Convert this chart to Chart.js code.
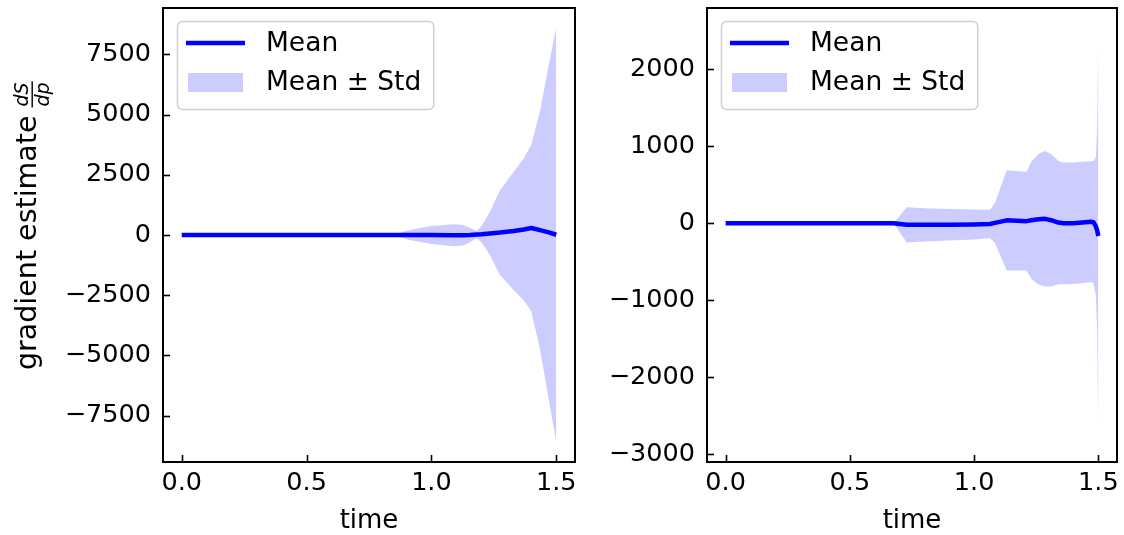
<!DOCTYPE html>
<html>
<head>
<meta charset="utf-8">
<script src="https://cdn.jsdelivr.net/npm/chart.js@4.4.0/dist/chart.umd.min.js"></script>
<style>
html, body { margin: 0; padding: 0; background: #fff; }
#wrap { position: relative; width: 1124px; height: 535px; }
#left { position: absolute; left: 0; top: 0; width: 580px; height: 535px; }
#right { position: absolute; left: 580px; top: 0; width: 544px; height: 535px; }
</style>
</head>
<body>
<div id="wrap">
	<canvas id="left" width="580" height="535"></canvas>
	<canvas id="right" width="544" height="535"></canvas>
</div>
<script>

// left panel
var timeL = [0, 0.846, 0.913, 0.993, 1.087, 1.127, 1.154, 1.181, 1.2, 1.234, 1.274, 1.33, 1.37, 1.4, 1.435, 1.47, 1.5];
var meanL = [0, 0, 0, 0, -10, -10, 0, 20, 30, 65, 100, 165, 230, 290, 200, 110, 10];
var stdL  = [0, 0, 210, 360, 455, 430, 300, 150, 330, 890, 1750, 2460, 2950, 3450, 4950, 6940, 8600];
var yTicksL = [-7500, -5000, -2500, 0, 2500, 5000, 7500];

// right panel
var timeR = [0, 0.676, 0.729, 0.8, 0.9, 1.0, 1.064, 1.084, 1.131, 1.211, 1.23, 1.26, 1.285, 1.31, 1.339, 1.36, 1.4, 1.47, 1.48, 1.49, 1.495, 1.5];
var meanR = [0, 0, -20, -20, -18, -15, -10, 5, 38, 28, 40, 52, 58, 40, 10, 0, 0, 20, 15, -40, -90, -165];
var stdR  = [0, 0, 230, 215, 205, 195, 185, 260, 650, 640, 760, 850, 880, 860, 800, 790, 788, 785, 790, 900, 1300, 2700];
var yTicksR = [-3000, -2000, -1000, 0, 1000, 2000];

var xTicks = [0, 0.5, 1.0, 1.5];
var labelMean = "Mean";
var labelBand = "Mean \u00b1 Std";

Chart.defaults.font.family = "'DejaVu Sans', sans-serif";
Chart.defaults.font.size = 25.5;
Chart.defaults.color = "#000";

function fmt(v){
	if (v < 0) { return "\u2212" + Math.abs(v); }
	return String(v);
}

function pts(t, vals){
	return t.map(function(x, i){ return {x: x, y: vals[i]}; });
}

// spines + inward ticks, like matplotlib direction='in'
var framePlugin = {
	id: 'frame',
	afterDatasetsDraw: function(chart){
		var ctx = chart.ctx, a = chart.chartArea;
		ctx.save();
		ctx.strokeStyle = "#000";
		ctx.lineWidth = 1.6;
		chart.scales.x.ticks.forEach(function(t){
			var px = Math.round(chart.scales.x.getPixelForValue(t.value)) + 0.5;
			ctx.beginPath(); ctx.moveTo(px, a.bottom); ctx.lineTo(px, a.bottom - 7); ctx.stroke();
		});
		chart.scales.y.ticks.forEach(function(t){
			var py = Math.round(chart.scales.y.getPixelForValue(t.value)) + 0.5;
			ctx.beginPath(); ctx.moveTo(a.left, py); ctx.lineTo(a.left + 7, py); ctx.stroke();
		});
		ctx.lineWidth = 2;
		ctx.strokeRect(a.left, a.top, a.right - a.left, a.bottom - a.top);
		ctx.restore();
	},
	afterDraw: function(chart){
		// legend box in upper left
		var ctx = chart.ctx, a = chart.chartArea;
		var ds = chart.data.datasets;
		ctx.save();
		ctx.font = "26.5px 'DejaVu Sans'";
		var tw = Math.max(ctx.measureText(ds[0].label).width, ctx.measureText(ds[2].label).width);
		var bx = a.left + 14, by = a.top + 13, bw = 89 + tw + 12, bh = 88;
		ctx.beginPath();
		ctx.roundRect(bx + 0.5, by + 0.5, bw, bh, 5);
		ctx.fillStyle = "rgba(255,255,255,0.8)";
		ctx.fill();
		ctx.strokeStyle = "#d0d0d0";
		ctx.lineWidth = 1.5;
		ctx.stroke();
		ctx.strokeStyle = ds[0].borderColor;
		ctx.lineWidth = 4.5;
		ctx.beginPath(); ctx.moveTo(bx + 9, by + 22); ctx.lineTo(bx + 68, by + 22); ctx.stroke();
		ctx.fillStyle = ds[2].backgroundColor;
		ctx.fillRect(bx + 11, by + 52, 55, 19);
		ctx.fillStyle = "#000";
		ctx.textBaseline = "middle";
		ctx.fillText(ds[0].label, bx + 89, by + 23);
		ctx.fillText(ds[2].label, bx + 89, by + 62);
		ctx.restore();
	}
};

var ylabelPlugin = {
	id: 'ylabel',
	afterDraw: function(chart){
		if (!chart.options.plugins.ylabel || !chart.options.plugins.ylabel.text) { return; }
		var ctx = chart.ctx;
		ctx.save();
		ctx.translate(29, 370);
		ctx.rotate(-Math.PI / 2);
		ctx.fillStyle = "#000";
		ctx.textBaseline = "middle";
		ctx.textAlign = "left";
		ctx.font = "28.5px 'DejaVu Sans'";
		var txt = chart.options.plugins.ylabel.text;
		ctx.fillText(txt, 0, 0);
		var w = ctx.measureText(txt).width + 8;
		ctx.font = "italic 19px 'DejaVu Sans'";
		var nw = ctx.measureText("dS").width, dw = ctx.measureText("dp").width;
		var fw = Math.max(nw, dw) + 2;
		ctx.textAlign = "center";
		ctx.textBaseline = "alphabetic";
		ctx.fillText("dS", w + fw / 2, -1);
		ctx.textBaseline = "top";
		ctx.fillText("dp", w + fw / 2, 6);
		ctx.fillRect(w, 2.5, fw, 1.4);
		ctx.restore();
	}
};

function make_chart(el, t, mean, std, yTicks, ymin, ymax, yWidth, padRight, ylabel){
	var upper = mean.map(function(m, i){ return m + std[i]; });
	var lower = mean.map(function(m, i){ return m - std[i]; });
	return new Chart(document.getElementById(el), {
		type: 'line',
		data: {
			datasets: [{
				label: labelMean,
				data: pts(t, mean),
				borderColor: "#0000ff",
				borderWidth: 4.5,
				pointRadius: 0,
				fill: false,
				borderJoinStyle: 'round',
				borderCapStyle: 'butt'
			}, {
				label: "upper",
				data: pts(t, upper),
				borderWidth: 0,
				borderColor: "rgba(0,0,0,0)",
				pointRadius: 0,
				fill: false
			}, {
				label: labelBand,
				data: pts(t, lower),
				borderWidth: 0,
				borderColor: "rgba(0,0,0,0)",
				backgroundColor: "rgba(0,0,255,0.2)",
				pointRadius: 0,
				fill: '-1'
			}]
		},
		options: {
			responsive: false,
			animation: false,
			layout: { padding: { top: 8, right: padRight, left: 0, bottom: 0 } },
			plugins: {
				legend: { display: false },
				tooltip: { enabled: false },
				ylabel: { text: ylabel }
			},
			scales: {
				x: {
					type: 'linear',
					min: -0.075,
					max: 1.575,
					grid: { display: false, drawTicks: false },
					border: { display: false },
					afterBuildTicks: function(s){ s.ticks = xTicks.map(function(v){ return {value: v}; }); },
					afterFit: function(s){ s.height = 73; s.paddingLeft = 0; s.paddingRight = 0; },
					ticks: {
						padding: 6,
						maxRotation: 0,
						callback: function(v){ return Number(v).toFixed(1); }
					},
					title: {
						display: true,
						text: "time",
						font: { size: 26, lineHeight: 1 },
						padding: { top: 0, bottom: 1 }
					}
				},
				y: {
					min: ymin,
					max: ymax,
					grid: { display: false, drawTicks: false },
					border: { display: false },
					afterBuildTicks: function(s){ s.ticks = yTicks.map(function(v){ return {value: v}; }); },
					afterFit: function(s){ s.width = yWidth; s.paddingTop = 0; s.paddingBottom = 0; },
					ticks: {
						padding: 12,
						callback: function(v){ return fmt(v); }
					}
				}
			}
		},
		plugins: [framePlugin, ylabelPlugin]
	});
}

make_chart('left', timeL, meanL, stdL, yTicksL, -9420, 9420, 163, 5, "gradient estimate");
make_chart('right', timeR, meanR, stdR, yTicksR, -3100, 2796, 127, 7, "");

</script>
</body>
</html>
